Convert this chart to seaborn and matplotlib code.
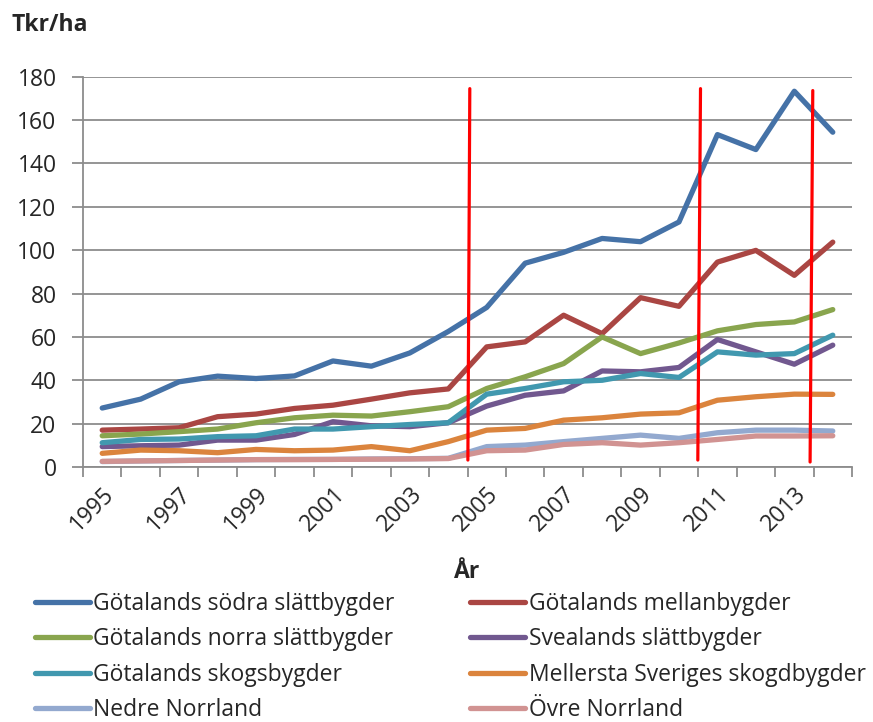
import numpy as np
import pandas as pd
import seaborn as sns
import matplotlib.pyplot as plt
from matplotlib.ticker import FixedLocator

sns.set_style('white')
plt.rcParams['font.family'] = ['Open Sans', 'DejaVu Sans']

years = list(range(1995, 2015))

regions = [
    'Götalands södra slättbygder', 'Götalands mellanbygder',
    'Götalands norra slättbygder', 'Svealands slättbygder',
    'Götalands skogsbygder', 'Mellersta Sveriges skogdbygder',
    'Nedre Norrland', 'Övre Norrland',
]

sodra = [27.2, 31.3, 39.3, 41.9, 40.8, 42.0, 48.9, 46.5, 52.6, 62.5,
         73.6, 94.0, 99.0, 105.4, 103.9, 113.0, 153.3, 146.4, 173.3, 154.4]
mellan = [17.0, 17.5, 18.1, 23.2, 24.4, 27.0, 28.5, 31.3, 34.2, 36.0,
          55.4, 57.7, 70.0, 61.5, 78.1, 74.1, 94.5, 99.9, 88.4, 103.7]
norra = [14.4, 15.2, 16.3, 17.5, 20.4, 22.7, 23.9, 23.5, 25.5, 27.8,
         36.2, 41.6, 47.7, 60.0, 52.3, 57.2, 62.8, 65.7, 66.9, 72.6]
svea = [9.4, 9.8, 10.1, 12.4, 12.4, 15.0, 20.9, 19.0, 18.6, 20.4,
        28.1, 33.1, 35.1, 44.3, 43.9, 45.9, 58.8, 53.1, 47.4, 56.2]
skog = [11.2, 12.7, 12.9, 14.0, 14.4, 17.5, 17.5, 18.6, 19.6, 20.4,
        33.6, 36.2, 39.3, 40.0, 43.1, 41.3, 53.1, 51.6, 52.3, 60.8]
mellersta = [6.3, 7.8, 7.5, 6.6, 8.1, 7.5, 7.8, 9.4, 7.5, 11.7,
             17.0, 17.8, 21.6, 22.7, 24.4, 25.0, 30.8, 32.4, 33.6, 33.5]
nedre = [2.5, 2.8, 3.0, 3.2, 3.4, 3.5, 3.5, 3.7, 3.8, 4.0,
         9.4, 10.1, 11.7, 13.2, 14.7, 13.2, 15.8, 17.0, 17.0, 16.6]
ovre = [2.6, 2.8, 3.0, 3.2, 3.4, 3.4, 3.5, 3.6, 3.7, 3.9,
        7.5, 7.8, 10.4, 11.2, 10.1, 11.2, 12.7, 14.3, 14.3, 14.4]

series = [sodra, mellan, norra, svea, skog, mellersta, nedre, ovre]
colors = ['#4572A7', '#AA4643', '#89A54E', '#71588F',
          '#4198AF', '#DB843D', '#93A9CF', '#D19392']

# hand-drawn red marker lines: (x top, x bottom, y top, y bottom) in category units
red_lines = [(9.56, 9.51, 174.5, 3.2),
             (15.56, 15.49, 174.5, 3.2),
             (18.48, 18.41, 173.6, 2.3)]

df = pd.DataFrame({
    'idx': np.tile(np.arange(len(years)), len(regions)),
    'value': np.concatenate(series),
    'region': np.repeat(regions, len(years)),
})

fig = plt.figure(figsize=(8.73, 7.22), dpi=100)
ax = fig.add_axes([83/873, 1 - 467/722, (852-83)/873, (467-76.7)/722])

sns.lineplot(data=df, x='idx', y='value', hue='region', hue_order=regions,
             palette=colors, linewidth=3.8, ax=ax, legend=False,
             solid_capstyle='round')

for xt, xb, yt, yb in red_lines:
    ax.plot([xt, xb], [yt, yb], color='#FF0000', linewidth=2.3, zorder=5)

grid_c = '#8C8C8C'
fs = 16.5
ax.set_xlim(-0.5, len(years) - 0.5)
ax.set_ylim(0, 180)
ax.set_yticks(range(0, 181, 20))
ax.yaxis.grid(True, color=grid_c, linewidth=1.3)
ax.set_axisbelow(True)

ax.xaxis.set_major_locator(FixedLocator(np.arange(-0.5, len(years), 1)))
ax.xaxis.set_minor_locator(FixedLocator(np.arange(0, len(years), 2)))
ax.set_xticklabels([])
ax.set_xticklabels([str(y) for y in years[::2]], minor=True,
                   rotation=45, ha='right', va='top', rotation_mode='anchor')
ax.tick_params(axis='x', which='major', direction='out', length=7,
               width=1.3, color=grid_c, bottom=True)
ax.tick_params(axis='x', which='minor', length=0, pad=11, labelsize=fs)
ax.tick_params(axis='y', direction='out', length=8, width=1.3,
               color=grid_c, left=True, labelsize=fs, pad=11)

for s in ['top', 'right']:
    ax.spines[s].set_visible(False)
for s in ['left', 'bottom']:
    ax.spines[s].set_color(grid_c)
    ax.spines[s].set_linewidth(1.3)

ax.set_xlabel('')
ax.set_ylabel('')
fig.text(12/873, 1 - 25/722, 'Tkr/ha', fontsize=fs, fontweight='bold',
         ha='left', va='center')
fig.text(467/873, 1 - 572/722, 'År', fontsize=fs, fontweight='bold',
         ha='center', va='center')

handles = ax.get_lines()[:len(regions)]
order = [0, 2, 4, 6, 1, 3, 5, 7]
leg = fig.legend([handles[i] for i in order], [regions[i] for i in order],
                 ncol=2, loc='upper left', bbox_to_anchor=(35/873, 1 - 592/722),
                 frameon=False, fontsize=fs, handlelength=2.4,
                 handletextpad=0.15, labelspacing=0.5, columnspacing=3.3,
                 borderaxespad=0, borderpad=0)
for h in leg.legend_handles:
    h.set_linewidth(3.8)

fig.savefig('out.png', dpi=100)
